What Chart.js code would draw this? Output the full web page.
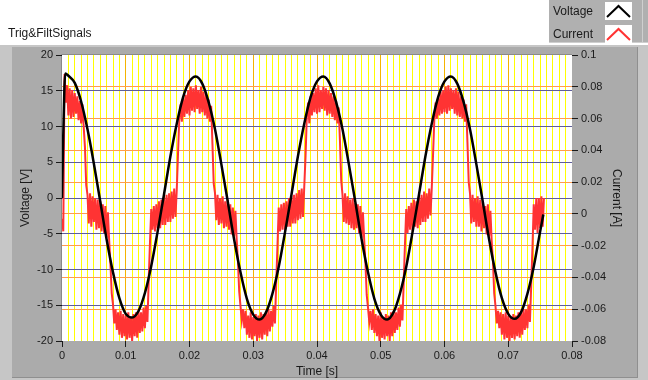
<!DOCTYPE html>
<html><head><meta charset="utf-8">
<script src="https://cdn.jsdelivr.net/npm/chart.js@4.4.0/dist/chart.umd.min.js"></script>
<style>html,body{margin:0;padding:0;background:#fff;}canvas{display:block;}</style>
</head><body>
<canvas id="c" width="648" height="380"></canvas>
<script>
const chartTitle = 'Trig&FiltSignals';
const seriesNames = ['Voltage', 'Current'];
const xTitle = 'Time [s]';
const yTitle = 'Voltage [V]';
const y1Title = 'Current [A]';

const xTickLabels = ['0', '0.01', '0.02', '0.03', '0.04', '0.05', '0.06', '0.07', '0.08'];
const yTickLabels = ['-20', '-15', '-10', '-5', '0', '5', '10', '15', '20'];
const y1TickLabels = ['-0.08', '-0.06', '-0.04', '-0.02', '0', '0.02', '0.04', '0.06', '0.08', '0.1'];

const voltageTime = [0, 0.0002, 0.0005, 0.001, 0.002, 0.003, 0.004, 0.005, 0.006, 0.007, 0.008, 0.009,
  0.010, 0.011, 0.012, 0.013, 0.014, 0.015, 0.016, 0.017, 0.018, 0.019,
  0.020, 0.021, 0.022, 0.023, 0.024, 0.025, 0.026, 0.027, 0.028, 0.029,
  0.030, 0.031, 0.032, 0.033, 0.034, 0.035, 0.036, 0.037, 0.038, 0.039,
  0.040, 0.041, 0.042, 0.043, 0.044, 0.045, 0.046, 0.047, 0.048, 0.049,
  0.050, 0.051, 0.052, 0.053, 0.054, 0.055, 0.056, 0.057, 0.058, 0.059,
  0.060, 0.061, 0.062, 0.063, 0.064, 0.065, 0.066, 0.067, 0.068, 0.069,
  0.070, 0.071, 0.072, 0.073, 0.074, 0.075, 0.0755];
const voltageValues = [0, 8.8, 17.4, 17.1, 16.1, 13.5, 9.6, 4.8, -0.5, -5.8, -10.4, -14.0,
  -16.2, -16.7, -15.8, -13.3, -9.5, -4.7, 0.5, 5.8, 10.4, 14.1,
  16.3, 17.0, 16.0, 13.4, 9.6, 4.7, -0.5, -5.8, -10.4, -14.1,
  -16.3, -17.0, -16.0, -13.4, -9.6, -4.7, 0.5, 5.8, 10.4, 14.1,
  16.3, 17.0, 16.0, 13.4, 9.6, 4.7, -0.5, -5.8, -10.4, -14.1,
  -16.3, -17.0, -16.0, -13.4, -9.6, -4.7, 0.5, 5.8, 10.4, 14.1,
  16.3, 17.0, 16.0, 13.4, 9.6, 4.7, -0.5, -5.8, -10.4, -14.0,
  -16.2, -16.9, -16.0, -13.4, -9.6, -4.7, -2.3];

const currentStep = 0.0002; // sample interval of the current record [s]
const currentPeriod0 = [
  -0.003, -0.011,
  0.088,
  0.070, 0.081, 0.062, 0.079, 0.060, 0.078, 0.061, 0.076, 0.063, 0.074, 0.059, 0.071, 0.057, 0.069, 0.055,
  0.042, 0.018,
  0.012, -0.006, 0.013, -0.008, 0.011, -0.005, 0.010, -0.010, 0.009, -0.009, 0.008, -0.011, 0.006, -0.012, 0.005, -0.015, 0.001, -0.017,
  -0.032, -0.050,
  -0.057, -0.069, -0.060, -0.073, -0.062, -0.076, -0.061, -0.078, -0.063, -0.077, -0.064, -0.079, -0.062, -0.078,
  -0.065, -0.080, -0.063, -0.077, -0.062, -0.078, -0.061, -0.075, -0.062, -0.074, -0.059, -0.072, -0.058, -0.068,
  -0.042, -0.018,
  0.003, -0.010, 0.005, -0.011, 0.006, -0.009, 0.008, -0.009, 0.009, -0.007, 0.011, -0.007, 0.012, -0.005, 0.013, -0.005, 0.014, -0.003, 0.016, -0.002, 0.015,
  0.038,
  0.060, 0.069, 0.058, 0.073, 0.061, 0.075, 0.063, 0.078
];
const currentPeriod1 = [
  0.062, 0.080, 0.065, 0.079, 0.064, 0.081, 0.066, 0.078, 0.063, 0.080, 0.064, 0.077, 0.062, 0.075, 0.060, 0.072, 0.058, 0.068,
  0.044, 0.019,
  0.013, -0.004, 0.012, -0.007, 0.010, -0.006, 0.011, -0.009, 0.008, -0.008, 0.009, -0.010, 0.006, -0.013, 0.004, -0.014, 0.002, -0.016,
  -0.030, -0.049,
  -0.058, -0.067, -0.060, -0.072, -0.061, -0.076, -0.064, -0.078, -0.062, -0.079, -0.065, -0.077, -0.063, -0.080,
  -0.064, -0.078, -0.062, -0.079, -0.063, -0.076, -0.061, -0.077, -0.060, -0.074, -0.061, -0.071, -0.058, -0.069,
  -0.044, -0.020,
  0.004, -0.011, 0.006, -0.010, 0.007, -0.010, 0.008, -0.008, 0.010, -0.008, 0.011, -0.006, 0.012, -0.006, 0.013, -0.004, 0.015, -0.003, 0.016, -0.002, 0.017,
  0.036,
  0.061, 0.070, 0.057, 0.074, 0.062, 0.076, 0.064, 0.079
];
const currentPeriod2 = [
  0.063, 0.081, 0.064, 0.078, 0.066, 0.080, 0.065, 0.079, 0.062, 0.078, 0.063, 0.076, 0.061, 0.074, 0.059, 0.071, 0.057, 0.067,
  0.046, 0.021,
  0.012, -0.005, 0.013, -0.006, 0.011, -0.007, 0.009, -0.009, 0.010, -0.010, 0.007, -0.009, 0.006, -0.012, 0.005, -0.015, 0.001, -0.016,
  -0.031, -0.051,
  -0.059, -0.068, -0.061, -0.073, -0.060, -0.075, -0.063, -0.077, -0.064, -0.080, -0.062, -0.078, -0.065, -0.079,
  -0.063, -0.077, -0.064, -0.080, -0.062, -0.077, -0.061, -0.075, -0.062, -0.073, -0.059, -0.071, -0.057, -0.067,
  -0.043, -0.019,
  0.003, -0.012, 0.005, -0.010, 0.007, -0.011, 0.009, -0.008, 0.008, -0.009, 0.011, -0.007, 0.012, -0.005, 0.014, -0.005, 0.013, -0.003, 0.016, -0.001, 0.016,
  0.037,
  0.059, 0.070, 0.060, 0.073, 0.062, 0.077, 0.063, 0.078
];
const currentPeriod3 = [
  0.064, 0.080, 0.063, 0.081, 0.065, 0.079, 0.066, 0.078, 0.063, 0.079, 0.062, 0.077, 0.061, 0.074, 0.060, 0.072, 0.058, 0.069,
  0.045, 0.020,
  0.013, -0.006, 0.012, -0.005, 0.010, -0.008, 0.011, -0.008, 0.009, -0.011, 0.008, -0.009, 0.005, -0.013, 0.006, -0.014, 0.002, -0.017,
  -0.030, -0.050,
  -0.058, -0.069, -0.061, -0.072, -0.062, -0.076, -0.063, -0.079, -0.062, -0.078, -0.064, -0.080, -0.065, -0.078,
  -0.063, -0.079, -0.064, -0.077, -0.062, -0.078, -0.061, -0.076, -0.060, -0.073, -0.060, -0.072, -0.057, -0.068,
  -0.045, -0.021,
  0.006, -0.010, 0.010, -0.012, 0.010, -0.009, 0.011, -0.008, 0.010
];
const currentValues = [].concat(currentPeriod0, currentPeriod1, currentPeriod2, currentPeriod3);

const FONT = '"Liberation Sans", Arial, sans-serif';
const TEXT = '#1a1a1a';
const CLEAR = 'rgba(0,0,0,0)';
const isMajorX = v => Math.abs(v * 100 - Math.round(v * 100)) < 1e-6;

const backdrop = {
  id: 'backdrop',
  beforeDraw(chart) {
    const {ctx, chartArea: a, width, height} = chart;
    ctx.save();
    ctx.fillStyle = '#ffffff'; ctx.fillRect(0, 0, width, height);
    ctx.fillStyle = '#c6c6c6'; ctx.fillRect(0, 45, width, height - 45);
    ctx.fillStyle = '#ababab'; ctx.fillRect(12, 47, 625, 330);
    ctx.fillStyle = '#8f8f8f'; ctx.fillRect(637, 47, 1, 331); ctx.fillRect(12, 377, 626, 1);
    ctx.fillStyle = '#ffffff'; ctx.fillRect(a.left, a.top, a.right - a.left, a.bottom - a.top);
    ctx.strokeStyle = '#8a8a8a'; ctx.lineWidth = 1;
    ctx.beginPath(); ctx.moveTo(a.left - 0.5, a.bottom); ctx.lineTo(a.left - 0.5, a.top - 0.5); ctx.lineTo(a.right, a.top - 0.5); ctx.stroke();
    // chart caption
    ctx.fillStyle = TEXT; ctx.font = '12px ' + FONT; ctx.textBaseline = 'middle'; ctx.textAlign = 'left';
    ctx.fillText(chartTitle, 8, 34);
    // legend panel
    ctx.fillStyle = '#b0b0b0'; ctx.fillRect(549, 0, 99, 43);
    ctx.fillStyle = '#cfcfcf'; ctx.fillRect(549, 42, 99, 1); ctx.fillRect(642, 0, 1, 43);
    chart.data.datasets.forEach((d, i) => {
      const y0 = 2 + i * 23;
      ctx.fillStyle = TEXT; ctx.font = '12px ' + FONT; ctx.textBaseline = 'middle';
      ctx.fillText(d.label, 553, y0 + 9.5);
      ctx.fillStyle = '#ffffff'; ctx.fillRect(605, y0, 27, 18);
      ctx.strokeStyle = d.borderColor; ctx.lineWidth = 2;
      ctx.beginPath(); ctx.moveTo(607, y0 + 15); ctx.lineTo(618.5, y0 + 4); ctx.lineTo(630, y0 + 15); ctx.stroke();
    });
    ctx.restore();
  }
};

new Chart(document.getElementById('c'), {
  type: 'line',
  data: {
    datasets: [
      {
        label: seriesNames[0],
        data: voltageTime.map((t, i) => ({x: t, y: voltageValues[i]})),
        borderColor: '#000000', borderWidth: 2.5, pointRadius: 0,
        cubicInterpolationMode: 'monotone', yAxisID: 'y', xAxisID: 'x'
      },
      {
        label: seriesNames[1],
        data: currentValues.map((v, i) => ({x: i * currentStep, y: v})),
        borderColor: '#ff3333', borderWidth: 2, pointRadius: 0, tension: 0,
        yAxisID: 'y1', xAxisID: 'x'
      }
    ]
  },
  options: {
    responsive: false, animation: false, devicePixelRatio: 1,
    layout: {padding: {top: 55, left: 0, right: 0, bottom: 0}},
    plugins: {legend: {display: false}, title: {display: false}, tooltip: {enabled: false}},
    scales: {
      x: {
        type: 'linear', position: 'bottom', min: 0, max: 0.08,
        ticks: {
          stepSize: 0.001, autoSkip: false, maxRotation: 0, minRotation: 0, padding: 2,
          color: TEXT, font: {family: FONT, size: 11},
          callback: v => isMajorX(v) ? xTickLabels[Math.round(v * 100)] : ''
        },
        grid: {
          z: -2, tickLength: 6,
          color: c => (c.index === 0 || (c.tick && Math.abs(c.tick.value - 0.08) < 1e-9)) ? CLEAR : (c.tick && isMajorX(c.tick.value) ? '#f4b400' : '#ffff00'),
          tickColor: c => (c.tick && isMajorX(c.tick.value)) ? TEXT : CLEAR
        },
        border: {display: false},
        title: {display: true, text: xTitle, color: TEXT, font: {family: FONT, size: 12}, padding: {top: 0, bottom: 1}},
        afterFit: s => { s.height = 39; }
      },
      y: {
        type: 'linear', position: 'left', min: -20, max: 20,
        ticks: {stepSize: 5, padding: 3, color: TEXT, font: {family: FONT, size: 11}, callback: (v, i) => yTickLabels[i]},
        grid: {z: -1, tickLength: 6, color: c => (c.index === 0 || c.index === 8) ? CLEAR : '#5f5f9a', tickColor: TEXT},
        border: {display: false},
        title: {display: true, text: yTitle, color: TEXT, font: {family: FONT, size: 12}, padding: {top: 18, bottom: 0}},
        afterFit: s => { s.width = 62; }
      },
      y1: {
        type: 'linear', position: 'right', min: -0.08, max: 0.1,
        ticks: {stepSize: 0.02, padding: 3, color: TEXT, font: {family: FONT, size: 11}, callback: (v, i) => y1TickLabels[i]},
        grid: {z: -1, tickLength: 6, color: c => (c.index === 0 || c.index === 9) ? CLEAR : '#ff9c4f', tickColor: TEXT},
        border: {display: false},
        title: {display: true, text: y1Title, color: TEXT, font: {family: FONT, size: 12}, padding: {top: 24, bottom: 0}},
        afterFit: s => { s.width = 76; }
      }
    }
  },
  plugins: [backdrop]
});
</script>
</body></html>
